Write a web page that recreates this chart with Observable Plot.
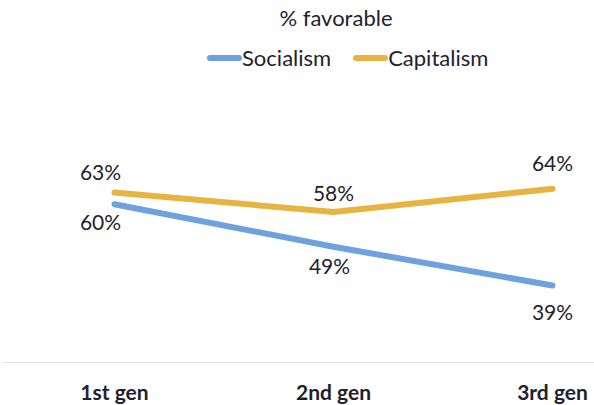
<!DOCTYPE html>
<html>
<head>
<meta charset="utf-8">
<script src="https://cdn.jsdelivr.net/npm/d3@7"></script>
<script src="https://cdn.jsdelivr.net/npm/@observablehq/plot@0.6"></script>
<style>
  html, body { margin: 0; padding: 0; background: #fff; }
  body { width: 594px; height: 405px; overflow: hidden; font-family: Lato, "Open Sans", sans-serif; color: #1f2130; }
  #head { position: relative; height: 80px; }
  #title { position: absolute; top: 4px; left: 0; width: 672px; text-align: center; font-size: 22px; }
  #legend { position: absolute; top: 44px; left: 207px; display: flex; align-items: center; font-size: 22px; white-space: nowrap; }
  .sw { display: inline-block; width: 35px; height: 6px; border-radius: 3px; }
  .item { display: flex; align-items: center; margin-right: 22px; }
  svg { display: block; }
</style>
</head>
<body>
<div id="head">
  <div id="title">% favorable</div>
  <div id="legend"></div>
</div>
<div id="chart"></div>
<script>
const categories = ["1st gen", "2nd gen", "3rd gen"];
const socialism = [60, 49, 39];
const capitalism = [63, 58, 64];
const seriesNames = ["Socialism", "Capitalism"];
const seriesColors = ["#6da2dc", "#e8b441"];

const rows = [];
categories.forEach((c, i) => {
  rows.push({gen: c, idx: i, series: "Socialism", value: socialism[i]});
  rows.push({gen: c, idx: i, series: "Capitalism", value: capitalism[i]});
});

const legend = document.getElementById("legend");
seriesNames.forEach((s, i) => {
  const it = document.createElement("span");
  it.className = "item";
  it.innerHTML = `<span class="sw" style="background:${seriesColors[i]}"></span><span>${s}</span>`;
  legend.appendChild(it);
});

const soc = rows.filter(d => d.series === "Socialism");
const cap = rows.filter(d => d.series === "Capitalism");
const label = d => d.value + "%";
const txt = {x: "gen", y: "value", text: label, fontSize: 21, fill: "#1f2130"};

const chart = Plot.plot({
  width: 594,
  height: 325,
  marginLeft: 3,
  marginRight: 0,
  marginTop: 0,
  marginBottom: 43,
  style: {fontFamily: "Lato, 'Open Sans', sans-serif", color: "#1f2130", background: "#fff"},
  x: {type: "point", domain: categories, range: [113, 552], padding: 0, axis: null},
  y: {domain: [20, 70], range: [278.5, 85], axis: null},
  color: {domain: seriesNames, range: seriesColors},
  marks: [
    Plot.frame({anchor: "bottom", stroke: "#e2e2e2", strokeOpacity: 1}),
    Plot.line(rows, {x: "gen", y: "value", z: "series", stroke: "series", strokeWidth: 6, strokeLinecap: "round", strokeLinejoin: "round"}),
    // Capitalism labels (above the line)
    Plot.text(cap.filter(d => d.idx === 0), {...txt, dy: -19, dx: -14}),
    Plot.text(cap.filter(d => d.idx === 1), {...txt, dy: -18}),
    Plot.text(cap.filter(d => d.idx === 2), {...txt, dy: -24}),
    // Socialism labels (below the line)
    Plot.text(soc.filter(d => d.idx === 0), {...txt, dy: 19, dx: -14}),
    Plot.text(soc.filter(d => d.idx === 1), {...txt, dy: 20, dx: -4}),
    Plot.text(soc.filter(d => d.idx === 2), {...txt, dy: 28}),
    Plot.axisX({tickSize: 0, tickPadding: 23, fontSize: 21, fontWeight: "bold", label: null, color: "#1f2130"}),
  ]
});
document.getElementById("chart").appendChild(chart);
</script>
</body>
</html>
